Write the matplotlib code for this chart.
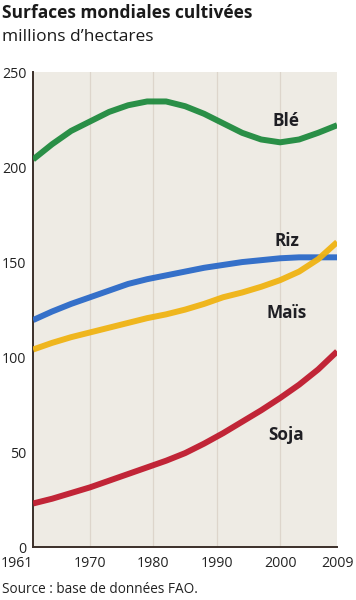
"""
Surfaces mondiales cultivées (FAO) - ble, riz, mais, soja.
"""
import matplotlib
matplotlib.use("Agg")
import matplotlib.pyplot as plt

years = [1961, 1964, 1967, 1970, 1973, 1976, 1979, 1982, 1985,
         1988, 1991, 1994, 1997, 2000, 2003, 2006, 2009]
ble = [204, 212, 219, 224, 229, 232.5, 234.5, 234.5, 232,
       228, 223, 218, 214.5, 213, 214.5, 218, 222]
riz = [119.5, 124, 128, 131.5, 135, 138.5, 141, 143, 145,
       147, 148.5, 150, 151, 152, 152.5, 152.5, 152.5]
mais = [104, 107.5, 110.5, 113, 115.5, 118, 120.5, 122.5, 125,
        128, 131.5, 134, 137, 140.5, 145, 151.5, 160.5]
soja = [23, 25.5, 28.5, 31.5, 35, 38.5, 42, 45.5, 49.5,
        54.5, 60, 66, 72, 78.5, 85.5, 93.5, 103]

names = ["Blé", "Riz", "Maïs", "Soja"]
colors = ["#1f8a3e", "#2b69c8", "#f0b313", "#bf1a2e"]
label_pos = [(2001, 224), (2001, 161), (2001, 123), (2001, 59)]

xticks = [1961, 1970, 1980, 1990, 2000, 2009]
yticks = [0, 50, 100, 150, 200, 250]

plt.rcParams["font.family"] = ["Open Sans", "DejaVu Sans"]

fig = plt.figure(figsize=(3.56, 6.0), dpi=100)
ax = fig.add_axes([0.093, 0.088, 0.854, 0.792])
ax.set_facecolor("#eeebe4")

for x in xticks[1:-1]:
    ax.axvline(x, color="#ddd5cb", lw=0.9, zorder=1)

for series, c in zip([ble, riz, mais, soja], colors):
    ax.plot(years, series, color=c, lw=4.3, solid_capstyle="butt",
            solid_joinstyle="round", zorder=3, alpha=0.95)

for name, (lx, ly) in zip(names, label_pos):
    ax.text(lx, ly, name, ha="center", va="center", fontsize=12.3,
            fontweight="bold", color="#1f1f24", zorder=4)

ax.set_xlim(1961, 2009)
ax.set_ylim(0, 250)
ax.set_xticks(xticks)
ax.set_yticks(yticks)
ax.tick_params(length=0, labelsize=10.2, colors="#222222")
ax.tick_params(axis="y", pad=5)
ax.tick_params(axis="x", pad=6)
ax.get_xticklabels()[0].set_horizontalalignment("right")

for s in ["top", "right"]:
    ax.spines[s].set_visible(False)
for s in ["left", "bottom"]:
    ax.spines[s].set_color("#3b2f29")
    ax.spines[s].set_linewidth(1.4)

fig.text(0.006, 0.994, "Surfaces mondiales cultivées", ha="left", va="top",
         fontsize=12.5, fontweight="bold", color="#1a1a1a")
fig.text(0.006, 0.952, "millions d’hectares", ha="left", va="top",
         fontsize=12.5, color="#1a1a1a")
fig.text(0.006, 0.017, "Source : base de données FAO.", ha="left", va="center",
         fontsize=9.8, color="#222222")

fig.savefig("out.png", dpi=100)
